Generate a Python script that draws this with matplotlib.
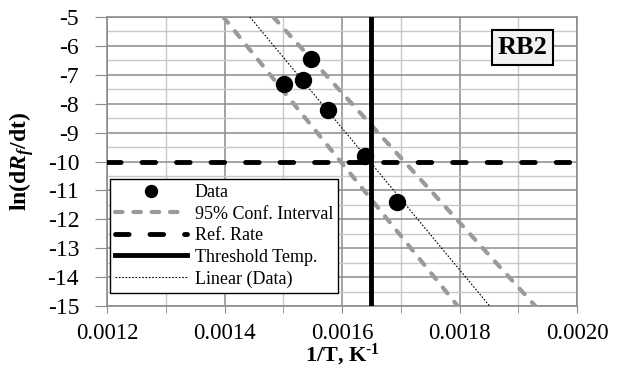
import numpy as np
import matplotlib
matplotlib.use("Agg")
import matplotlib.pyplot as plt
from matplotlib.ticker import MultipleLocator, FormatStrFormatter

# ---- data ----
inv_T = [0.001501, 0.001534, 0.001548, 0.001576, 0.001639, 0.001693]
ln_rate = [-7.32, -7.18, -6.45, -8.22, -9.81, -11.41]
ci_y = [-5, -15]
ci_lower_x = [0.001398, 0.001797]
ci_upper_x = [0.001483, 0.001929]
ref_rate = -10
threshold_x = 0.00165
panel_label = "RB2"
legend_labels = ["Data", "95% Conf. Interval", "Ref. Rate", "Threshold Temp.", "Linear (Data)"]

plt.rcParams['font.family'] = ['Liberation Serif', 'DejaVu Serif']
plt.rcParams['axes.unicode_minus'] = False
plt.rcParams['mathtext.fontset'] = 'custom'
plt.rcParams['mathtext.rm'] = 'Liberation Serif:bold'
plt.rcParams['mathtext.bf'] = 'Liberation Serif:bold'
plt.rcParams['mathtext.it'] = 'Liberation Serif:italic:bold'

fig = plt.figure(figsize=(6.25, 3.7), dpi=100)
ax = fig.add_axes([107/625, 1-306/370, 470/625, 289/370])

ax.set_xlim(0.0012, 0.0020)
ax.set_ylim(-15, -5)

# grid
ax.xaxis.set_major_locator(MultipleLocator(0.0002))
ax.xaxis.set_minor_locator(MultipleLocator(0.0001))
ax.yaxis.set_major_locator(MultipleLocator(1))
ax.yaxis.set_minor_locator(MultipleLocator(0.5))
ax.xaxis.set_major_formatter(FormatStrFormatter('%.4f'))
ax.yaxis.set_major_formatter(FormatStrFormatter('%d'))
ax.grid(which='major', color='#8c8c8c', linewidth=1.1, zorder=0)
ax.grid(which='minor', color='#c8c8c8', linewidth=1.0, zorder=0)
ax.set_axisbelow(True)
for s in ax.spines.values():
    s.set_color('#8c8c8c')
    s.set_linewidth(1.2)
ax.tick_params(axis='x', which='both', direction='out', length=5, color='#8c8c8c',
               labelsize=16.5, pad=7)
ax.tick_params(axis='x', which='minor', labelbottom=False)
ax.tick_params(axis='y', which='major', direction='out', length=9, color='#8c8c8c',
               labelsize=17, pad=11)
ax.tick_params(axis='y', which='minor', length=0)

# CI lines
ax.plot(ci_lower_x, ci_y, color='#9a9a9a', lw=3, dashes=(1.8, 2.6),
        dash_capstyle='round', zorder=3, label=legend_labels[1])
ax.plot(ci_upper_x, ci_y, color='#9a9a9a', lw=3, dashes=(1.8, 2.6),
        dash_capstyle='round', zorder=3)

# reference rate
ax.axhline(ref_rate, xmin=0, xmax=0.985, color='black', lw=3.5, dashes=(2.8, 4.3),
           dash_capstyle='round', zorder=4, label=legend_labels[2])
# threshold
ax.axvline(threshold_x, color='black', lw=3.5, zorder=4, label=legend_labels[3])

# linear fit
m, b = np.polyfit(inv_T, ln_rate, 1)
xs = np.array([0.0012, 0.0020])
ax.plot(xs, m*xs + b, color='black', lw=0.8, linestyle=(0, (1.5, 1.5)), zorder=5,
        label=legend_labels[4])

# data
ax.plot(inv_T, ln_rate, 'o', color='black', markersize=11.5, zorder=6,
        label=legend_labels[0])

handles, labels = ax.get_legend_handles_labels()
order = [labels.index(l) for l in legend_labels]
leg = ax.legend([handles[i] for i in order], [labels[i] for i in order],
                loc='upper left', bbox_to_anchor=(0.006, 0.44), borderaxespad=0,
                fontsize=13, handlelength=4.0, handletextpad=0.4, labelspacing=0.25,
                markerscale=0.75, numpoints=1, fancybox=False, framealpha=1,
                edgecolor='black', borderpad=0.3)
leg.get_frame().set_linewidth(1.0)
leg.set_zorder(10)

ax.text(0.884, 0.894, panel_label, transform=ax.transAxes, ha='center', va='center',
        fontsize=19, fontweight='bold', zorder=11,
        bbox=dict(boxstyle='square,pad=0.22', facecolor='#f2f2f2', edgecolor='black', linewidth=1.5))

ax.set_xlabel(r'1/T, K$^{\text{-}1}$', fontsize=16, fontweight='bold', labelpad=-1)
ax.set_ylabel(r'ln(d$R_f$/dt)', fontsize=17, fontweight='bold', labelpad=8)

fig.savefig('out.png', dpi=100)
